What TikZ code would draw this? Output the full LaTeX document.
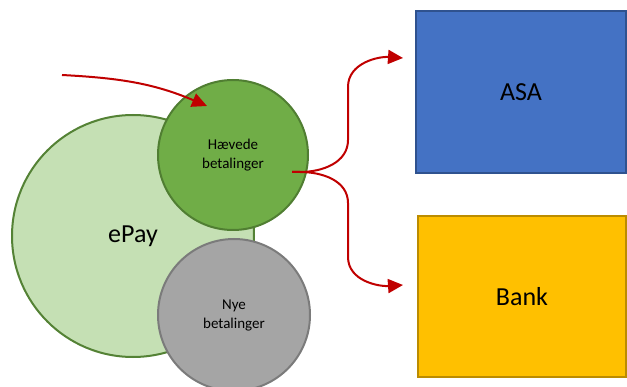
\documentclass[tikz,border=0pt]{standalone}
\usepackage{fontspec}
\setmainfont{Carlito}
\usetikzlibrary{arrows.meta}
\definecolor{epaygreen}{HTML}{C5E0B4}
\definecolor{epayline}{HTML}{548235}
\definecolor{haevgreen}{HTML}{70AD47}
\definecolor{haevline}{HTML}{507E32}
\definecolor{nyegray}{HTML}{A5A5A5}
\definecolor{nyeline}{HTML}{7B7B7B}
\definecolor{asablue}{HTML}{4472C4}
\definecolor{asaline}{HTML}{2F528F}
\definecolor{bankyellow}{HTML}{FFC000}
\definecolor{bankline}{HTML}{BC8C00}
\definecolor{flowred}{HTML}{C00000}

\begin{document}
\begin{tikzpicture}[x=1pt, y=1pt,
		ball/.style={circle, line width=2pt, inner sep=0pt, align=center},
		box/.style={rectangle, line width=1.2pt, inner sep=0pt, font=\fontsize{26}{30}\selectfont},
		flow/.style={flowred, line width=2pt, -{Triangle[length=15pt, width=14pt]}}]
		\useasboundingbox (0,0) rectangle (627,386);

		\node[ball, fill=epaygreen, draw=epayline, minimum size=242pt, font=\fontsize{26}{30}\selectfont] (epay) at (133,150) {ePay};
		\node[ball, fill=haevgreen, draw=haevline, minimum size=150pt, font=\fontsize{15}{19}\selectfont] (haev) at (233,231) {Hævede\\betalinger};
		\node[ball, fill=nyegray, draw=nyeline, minimum size=152pt, font=\fontsize{15}{19}\selectfont] (nye) at (234,71) {Nye\\betalinger};

		\node[box, fill=asablue, draw=asaline, minimum width=210pt, minimum height=162pt] (asa) at (521,294) {ASA};
		\node[box, fill=bankyellow, draw=bankline, minimum width=208pt, minimum height=161pt] (bank) at (522,89.5) {Bank};

		\coordinate (feed) at (62,311);
		\coordinate (haev in) at (207,280);
		\coordinate (split) at (292,214);
		\coordinate (asa in) at (403,328);
		\coordinate (bank in) at (403,101);

		\draw[flow] (feed) to[out=-3, in=157] (haev in);
		\draw[flow] (split) -- (300,214) to[out=0, in=-90] (348,246) -- (348,299) to[out=90, in=176] (asa in);
		\draw[flow] (split) -- (300,214) to[out=0, in=90] (348,183) -- (348,129) to[out=-90, in=184] (bank in);
\end{tikzpicture}
\end{document}
